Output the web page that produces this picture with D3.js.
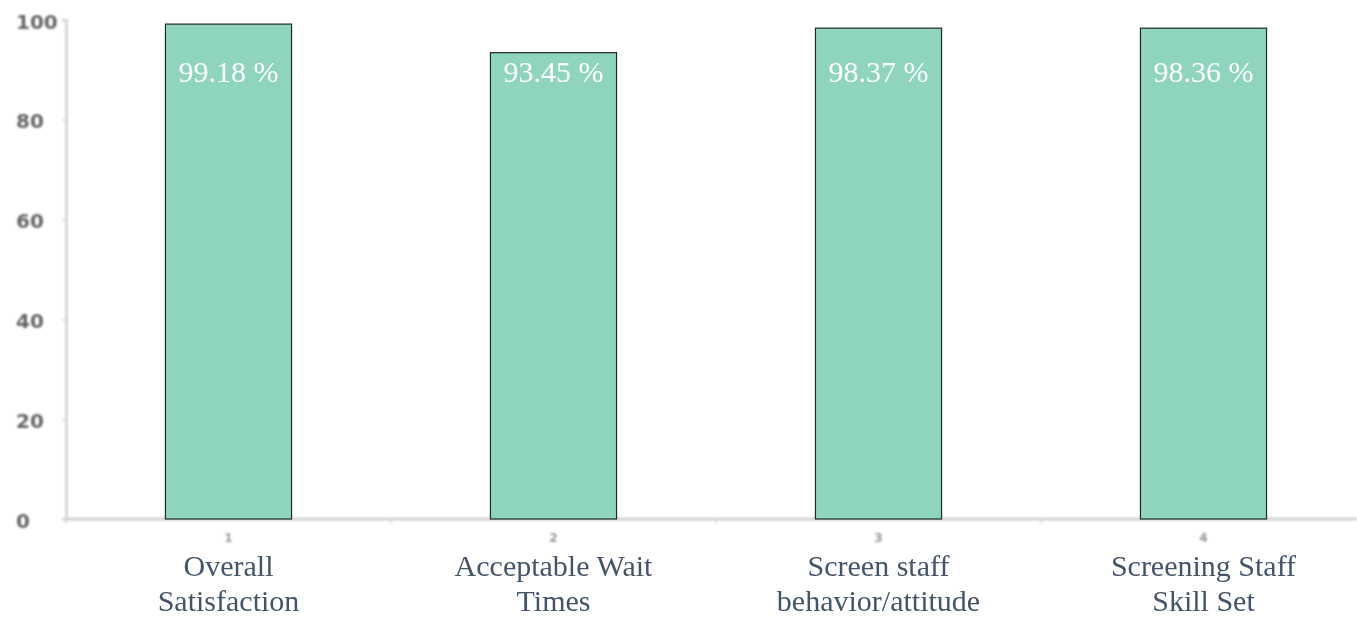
<!DOCTYPE html>
<html>
<head>
<meta charset="utf-8">
<script src="https://cdn.jsdelivr.net/npm/d3@7"></script>
<style>
  html, body { margin: 0; padding: 0; background: #fff; }
  svg { display: block; }
</style>
</head>
<body>
<svg id="chart" width="1357" height="618"></svg>
<script>
// Survey results, percent satisfied per question
const categories = ["1", "2", "3", "4"];
const values = [99.18, 93.45, 98.37, 98.36];
const categoryNames = [
  ["Overall", "Satisfaction"],
  ["Acceptable Wait", "Times"],
  ["Screen staff", "behavior/attitude"],
  ["Screening Staff", "Skill Set"]
];
const yTicks = [0, 20, 40, 60, 80, 100];

const svg = d3.select("#chart");
const W = 1357;
const plotLeft = 66, plotRight = 1366, plotTop = 20, plotBottom = 519;

const x = d3.scaleBand().domain(categories).range([plotLeft, plotRight]).paddingInner(0.612).paddingOuter(0.306);
const y = d3.scaleLinear().domain([0, 100]).range([plotBottom, plotTop]);

// soft blur used for the axis layer
const defs = svg.append("defs");
defs.append("filter").attr("id", "soft").attr("x", "-20%").attr("y", "-20%").attr("width", "140%").attr("height", "140%")
  .append("feGaussianBlur").attr("stdDeviation", 1.3);

const axisLayer = svg.append("g").attr("filter", "url(#soft)");

// y axis, labels left-aligned at the page edge
const yAxis = axisLayer.append("g")
  .attr("transform", `translate(${plotLeft},0)`)
  .call(d3.axisLeft(y).tickValues(yTicks).tickSize(4));
yAxis.select(".domain").attr("stroke", "#d0d0d0").attr("stroke-width", 2.5);
yAxis.selectAll(".tick line").attr("stroke", "#d4d4d4").attr("stroke-width", 1.5);
yAxis.selectAll(".tick text")
  .attr("x", 16 - plotLeft)
  .attr("text-anchor", "start")
  .attr("fill", "#666").attr("font-family", "DejaVu Sans, sans-serif")
  .attr("font-size", 20).attr("font-weight", "bold").attr("dy", "0.4em");

// x axis with ticks at band edges
const xAxisG = axisLayer.append("g").attr("transform", `translate(0,${plotBottom})`);
xAxisG.append("line").attr("x1", plotLeft).attr("x2", W).attr("y1", 0).attr("y2", 0)
  .attr("stroke", "#d0d0d0").attr("stroke-width", 3);
xAxisG.selectAll("line.edge").data(categories).enter().append("line")
  .attr("class", "edge")
  .attr("x1", d => x(d) - x.step() * x.paddingInner() / 2)
  .attr("x2", d => x(d) - x.step() * x.paddingInner() / 2)
  .attr("y1", 0).attr("y2", 5)
  .attr("stroke", "#d4d4d4").attr("stroke-width", 1.5);
xAxisG.selectAll("text.num").data(categories).enter().append("text")
  .attr("class", "num")
  .attr("x", d => x(d) + x.bandwidth() / 2)
  .attr("y", 23)
  .attr("text-anchor", "middle")
  .attr("fill", "#999").attr("font-family", "DejaVu Sans, sans-serif")
  .attr("font-size", 12).attr("font-weight", "bold")
  .text(d => d);

// bars
svg.append("g").selectAll("rect").data(values).enter().append("rect")
  .attr("x", (d, i) => x(categories[i]))
  .attr("y", d => y(d))
  .attr("width", x.bandwidth())
  .attr("height", d => y(0) - y(d))
  .attr("fill", "#8fd4bf")
  .attr("stroke", "#1e2a26").attr("stroke-width", 1.2);

// value labels
svg.append("g").selectAll("text").data(values).enter().append("text")
  .attr("x", (d, i) => x(categories[i]) + x.bandwidth() / 2)
  .attr("y", 82)
  .attr("text-anchor", "middle")
  .attr("fill", "#ffffff")
  .attr("font-family", "Liberation Serif, Times New Roman, serif")
  .attr("font-size", 30)
  .text(d => d.toFixed(2) + " %");

// category names below the axis
const names = svg.append("g").selectAll("text").data(categoryNames).enter().append("text")
  .attr("x", (d, i) => x(categories[i]) + x.bandwidth() / 2)
  .attr("y", 576)
  .attr("text-anchor", "middle")
  .attr("fill", "#44546a")
  .attr("font-family", "Liberation Serif, Times New Roman, serif")
  .attr("font-size", 30);
names.selectAll("tspan").data(d => d).enter().append("tspan")
  .attr("x", function () { return d3.select(this.parentNode).attr("x"); })
  .attr("dy", (d, j) => j === 0 ? 0 : 35)
  .text(d => d);
</script>
</body>
</html>
